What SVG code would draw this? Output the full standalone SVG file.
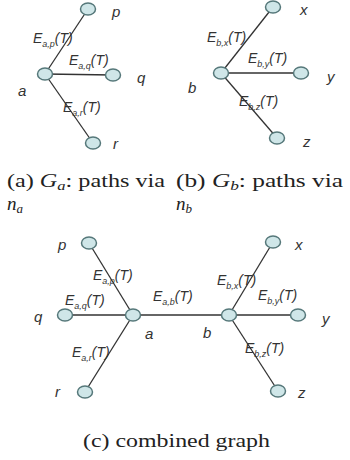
<svg xmlns="http://www.w3.org/2000/svg" width="350" height="460" viewBox="0 0 350 460">
<style>
.e{stroke:#333;stroke-width:1.3;fill:none}
.n{fill:#cfe6e8;stroke:#56787a;stroke-width:1.5}
.lb{font-family:"Liberation Sans",Arial,sans-serif;font-style:italic;font-size:15px;fill:#333}
.el{font-family:"Liberation Sans",Arial,sans-serif;font-style:italic;font-size:14px;fill:#333}
.sb{font-size:9px}
.cap{font-family:"Liberation Serif","Times New Roman",serif;font-size:19px;fill:#222}
.it{font-style:italic}
.cs{font-size:13px;font-style:italic}
</style>
<rect width="350" height="460" fill="#fff"/>
<g id="connectors">
<line class="e" x1="45" y1="74" x2="88" y2="9"/>
<line class="e" x1="45" y1="74" x2="113" y2="75"/>
<line class="e" x1="45" y1="74" x2="93" y2="143"/>
<line class="e" x1="221" y1="73" x2="273" y2="7"/>
<line class="e" x1="221" y1="73" x2="301" y2="73"/>
<line class="e" x1="221" y1="73" x2="277" y2="138"/>
<line class="e" x1="133" y1="315" x2="229" y2="315"/>
<line class="e" x1="133" y1="315" x2="89" y2="243"/>
<line class="e" x1="133" y1="315" x2="65" y2="315"/>
<line class="e" x1="133" y1="315" x2="85" y2="392"/>
<line class="e" x1="229" y1="315" x2="273" y2="242"/>
<line class="e" x1="229" y1="315" x2="298" y2="315"/>
<line class="e" x1="229" y1="315" x2="278" y2="391"/>
</g>
<g id="edge-labels">
<text class="el" x="33" y="43">E<tspan class="sb" dy="4">a,p</tspan><tspan dy="-4">(T)</tspan></text>
<text class="el" x="69" y="65">E<tspan class="sb" dy="4">a,q</tspan><tspan dy="-4">(T)</tspan></text>
<text class="el" x="63" y="112">E<tspan class="sb" dy="4">a,r</tspan><tspan dy="-4">(T)</tspan></text>
<text class="el" x="207" y="42">E<tspan class="sb" dy="4">b,x</tspan><tspan dy="-4">(T)</tspan></text>
<text class="el" x="248" y="63">E<tspan class="sb" dy="4">b,y</tspan><tspan dy="-4">(T)</tspan></text>
<text class="el" x="239" y="106">E<tspan class="sb" dy="4">b,z</tspan><tspan dy="-4">(T)</tspan></text>
<text class="el" x="93" y="280">E<tspan class="sb" dy="4">a,p</tspan><tspan dy="-4">(T)</tspan></text>
<text class="el" x="65" y="305">E<tspan class="sb" dy="4">a,q</tspan><tspan dy="-4">(T)</tspan></text>
<text class="el" x="72" y="357">E<tspan class="sb" dy="4">a,r</tspan><tspan dy="-4">(T)</tspan></text>
<text class="el" x="153" y="301">E<tspan class="sb" dy="4">a,b</tspan><tspan dy="-4">(T)</tspan></text>
<text class="el" x="217" y="285">E<tspan class="sb" dy="4">b,x</tspan><tspan dy="-4">(T)</tspan></text>
<text class="el" x="258" y="300">E<tspan class="sb" dy="4">b,y</tspan><tspan dy="-4">(T)</tspan></text>
<text class="el" x="245" y="353">E<tspan class="sb" dy="4">b,z</tspan><tspan dy="-4">(T)</tspan></text>
</g>
<g id="ga-a"><ellipse class="n" cx="45" cy="74" rx="7.5" ry="6"/><text class="lb" x="18" y="96">a</text></g>
<g id="ga-p"><ellipse class="n" cx="88" cy="9" rx="7.5" ry="6"/><text class="lb" x="112" y="17">p</text></g>
<g id="ga-q"><ellipse class="n" cx="113" cy="75" rx="7.5" ry="6"/><text class="lb" x="137" y="83">q</text></g>
<g id="ga-r"><ellipse class="n" cx="93" cy="143" rx="7.5" ry="6"/><text class="lb" x="113" y="149">r</text></g>
<g id="gb-b"><ellipse class="n" cx="221" cy="73" rx="7.5" ry="6"/><text class="lb" x="188" y="93">b</text></g>
<g id="gb-x"><ellipse class="n" cx="273" cy="7" rx="7.5" ry="6"/><text class="lb" x="300" y="15">x</text></g>
<g id="gb-y"><ellipse class="n" cx="301" cy="73" rx="7.5" ry="6"/><text class="lb" x="327" y="82">y</text></g>
<g id="gb-z"><ellipse class="n" cx="277" cy="138" rx="7.5" ry="6"/><text class="lb" x="303" y="147">z</text></g>
<g id="c-a"><ellipse class="n" cx="133" cy="315" rx="7.5" ry="6"/><text class="lb" x="145" y="339">a</text></g>
<g id="c-b"><ellipse class="n" cx="229" cy="315" rx="7.5" ry="6"/><text class="lb" x="203" y="338">b</text></g>
<g id="c-p"><ellipse class="n" cx="89" cy="243" rx="7.5" ry="6"/><text class="lb" x="58" y="250">p</text></g>
<g id="c-q"><ellipse class="n" cx="65" cy="315" rx="7.5" ry="6"/><text class="lb" x="34" y="322">q</text></g>
<g id="c-r"><ellipse class="n" cx="85" cy="392" rx="7.5" ry="6"/><text class="lb" x="55" y="397">r</text></g>
<g id="c-x"><ellipse class="n" cx="273" cy="242" rx="7.5" ry="6"/><text class="lb" x="295" y="250">x</text></g>
<g id="c-y"><ellipse class="n" cx="298" cy="315" rx="7.5" ry="6"/><text class="lb" x="322" y="324">y</text></g>
<g id="c-z"><ellipse class="n" cx="278" cy="391" rx="7.5" ry="6"/><text class="lb" x="298" y="398">z</text></g>
<g id="captions">
<text class="cap" x="7" y="187" textLength="158" lengthAdjust="spacingAndGlyphs">(a) <tspan class="it">G</tspan><tspan class="cs" dy="3">a</tspan><tspan dy="-3">: paths via</tspan></text>
<text class="cap" x="7" y="210"><tspan class="it">n</tspan><tspan class="cs" dy="3">a</tspan></text>
<text class="cap" x="176" y="187" textLength="167" lengthAdjust="spacingAndGlyphs">(b) <tspan class="it">G</tspan><tspan class="cs" dy="3">b</tspan><tspan dy="-3">:  paths  via</tspan></text>
<text class="cap" x="176" y="210"><tspan class="it">n</tspan><tspan class="cs" dy="3">b</tspan></text>
<text class="cap" x="83" y="447" textLength="187" lengthAdjust="spacingAndGlyphs">(c) combined graph</text>
</g>
</svg>
